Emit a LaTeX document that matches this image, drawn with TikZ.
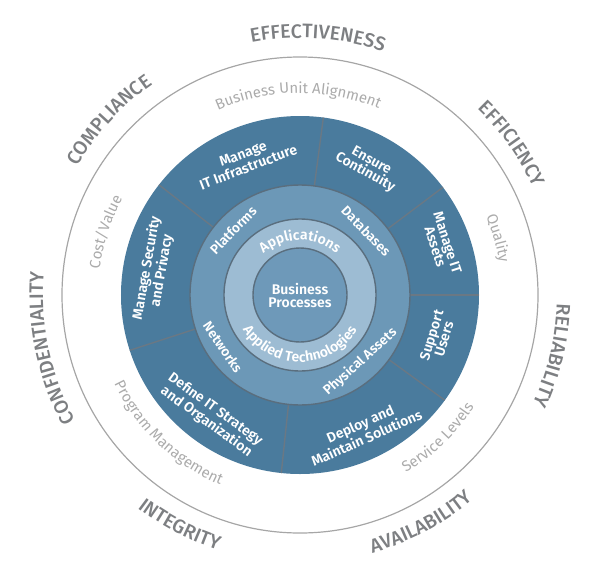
\documentclass[tikz,border=0pt]{standalone}
\usepackage{fontspec}
\setmainfont{Fira Sans}
\newfontfamily\medfont{Fira Sans Medium}
\newfontfamily\semifont{Fira Sans SemiBold}
\usetikzlibrary{decorations.text}

\definecolor{ringdark}{HTML}{4A7B9D}
\definecolor{ringmid}{HTML}{6C98B7}
\definecolor{ringlight}{HTML}{9DBCD3}
\definecolor{corefill}{HTML}{6E99B9}
\definecolor{rimline}{HTML}{5A6E7E}
\definecolor{divgray}{HTML}{6A7884}
\definecolor{capsgray}{HTML}{7D7F82}
\definecolor{softgray}{HTML}{ABABAB}
\definecolor{circlegray}{HTML}{A6A6A6}

\begin{document}
\begin{tikzpicture}[x=1pt,y=1pt,
  ring/.style={draw=rimline, line width=1.4pt},
  divider/.style={draw=divgray, line width=1.4pt},
  tasklabel/.style={text=white, align=center, inner sep=0pt, font=\semifont\fontsize{14}{13}\selectfont},
  techlabel/.style={text=white, align=center, inner sep=0pt, font=\semifont\fontsize{13.5}{13}\selectfont},
  capsarc/.style={decorate, decoration={text along path, text align=center, text color=capsgray,
      text={|\medfont\fontsize{19.5}{19.5}\selectfont|#1}}},
  softarc/.style={decorate, decoration={text along path, text align=center, text color=softgray,
      text={|\fontsize{15}{15}\selectfont|#1}}},
  layerarc/.style={decorate, decoration={text along path, text align=center, text color=white,
      text={|\semifont\fontsize{14}{14}\selectfont|#1}}}
]
\useasboundingbox (-300,-284) rectangle (307,295);

%Shape: Circle [outer rim]
\draw [draw=circlegray, line width=1.2pt] (0,0) circle [radius=238];
%Shape: Circle [process ring]
\fill [ringdark] (0,0) circle [radius=179];
%Straight Lines [dividers]
\foreach \a in {82.5,37,0,-36,-96,198,142}
  \draw [divider] (\a:108) -- (\a:179);
%Shape: Circle [technology ring]
\draw [ring, fill=ringmid] (0,0) circle [radius=110];
%Shape: Circle [applied ring]
\draw [ring, fill=ringlight] (0,0) circle [radius=76];
%Shape: Circle [core]
\draw [ring, fill=corefill] (0,0) circle [radius=47];

% Text Node
\node [tasklabel] (core) at (0,0) {Business\\Processes};
% Text Node
\node [tasklabel, rotate=21] (infra) at (112:145) {Manage\\IT Infrastructure};
% Text Node
\node [tasklabel, rotate=-29] (continuity) at (62:145) {Ensure\\Continuity};
% Text Node
\node [tasklabel, rotate=-72] (assets) at (19.5:150) {Manage IT\\Assets};
% Text Node
\node [tasklabel, rotate=73] (users) at (-17:144) {Support\\Users};
% Text Node
\node [tasklabel, rotate=24] (deploy) at (-65:150) {Deploy and\\Maintain Solutions};
% Text Node
\node [tasklabel, rotate=-36] (strategy) at (233.5:150) {Define IT Strategy\\and Organization};
% Text Node
\node [tasklabel, rotate=80] (security) at (170:148) {Manage Security\\and Privacy};

% Text Node
\node [techlabel, rotate=46] (platforms) at (136:93) {Platforms};
% Text Node
\node [techlabel, rotate=-46] (databases) at (44:92) {Databases};
% Text Node
\node [techlabel, rotate=-56] (networks) at (214:93) {Networks};
% Text Node
\node [techlabel, rotate=42] (physical) at (-48:90) {Physical Assets};

% Curved Text
\path [layerarc=Applications] (150:55) arc [start angle=150, end angle=30, radius=55];
\path [layerarc=Applied Technologies] (190:67) arc [start angle=190, end angle=350, radius=67];

% Curved Text
\path [softarc=Business Unit Alignment] (130.5:202) arc [start angle=130.5, end angle=50.5, radius=202];
\path [softarc=Quality] (46:202) arc [start angle=46, end angle=-14, radius=202];
\path [softarc=Service Levels] (-86:207) arc [start angle=-86, end angle=-6, radius=207];
\path [softarc=Program Management] (186.4:206) arc [start angle=186.4, end angle=266.4, radius=206];
\path [softarc=Cost/Value] (192:202) arc [start angle=192, end angle=132, radius=202];

% Curved Text
\path [capsarc=EFFECTIVENESS] (116:257) arc [start angle=116, end angle=56, radius=257];
\path [capsarc=EFFICIENCY] (65.5:257) arc [start angle=65.5, end angle=5.5, radius=257];
\path [capsarc=RELIABILITY] (16.5:257) arc [start angle=16.5, end angle=-43.5, radius=257];
\path [capsarc=AVAILABILITY] (-92:268) arc [start angle=-92, end angle=-32, radius=268];
\path [capsarc=INTEGRITY] (212.4:268) arc [start angle=212.4, end angle=272.4, radius=268];
\path [capsarc=CONFIDENTIALITY] (222:257) arc [start angle=222, end angle=162, radius=257];
\path [capsarc=COMPLIANCE] (167.5:257) arc [start angle=167.5, end angle=107.5, radius=257];

\end{tikzpicture}
\end{document}
